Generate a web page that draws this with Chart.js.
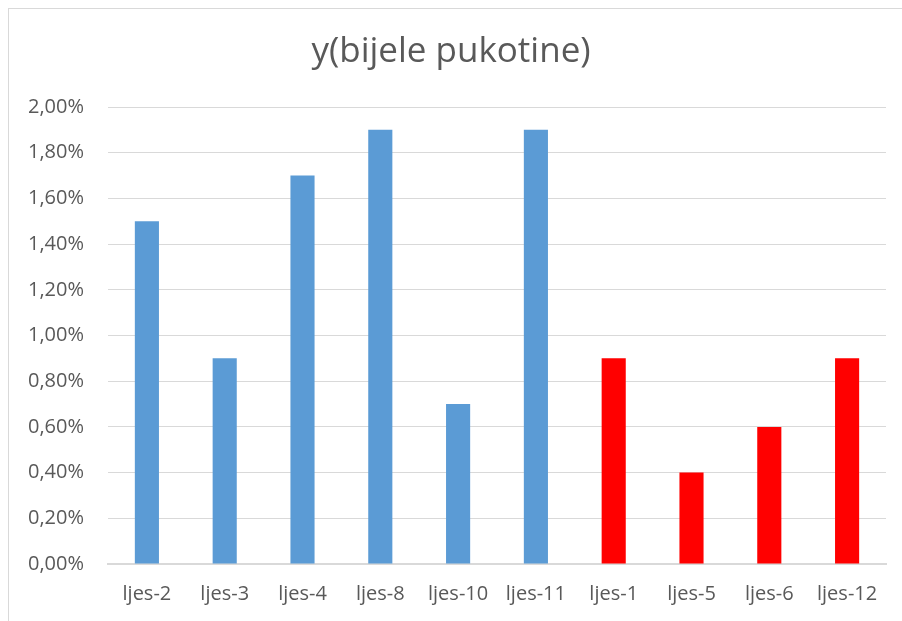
<!DOCTYPE html>
<html>
<head>
<meta charset="utf-8">
<script src="https://cdn.jsdelivr.net/npm/chart.js@4/dist/chart.umd.min.js"></script>
<style>
  html, body { margin: 0; padding: 0; background: #fff; }
  #frame { position: absolute; left: 8px; top: 8px; width: 1000px; height: 1000px; border: 1px solid #d9d9d9; }
  #wrap { position: absolute; left: 0; top: 0; width: 902px; height: 621px; }
</style>
</head>
<body>
<div id="frame"></div>
<div id="wrap"><canvas id="chart"></canvas></div>
<script>
const categories = ["ljes-2", "ljes-3", "ljes-4", "ljes-8", "ljes-10", "ljes-11", "ljes-1", "ljes-5", "ljes-6", "ljes-12"];
const values = [1.5, 0.9, 1.7, 1.9, 0.7, 1.9, 0.9, 0.4, 0.6, 0.9];
const yTicks = [0, 0.2, 0.4, 0.6, 0.8, 1.0, 1.2, 1.4, 1.6, 1.8, 2.0];

const blue = "#5b9bd5";
const red = "#ff0000";
const barColors = categories.map((c, i) => (i < 6 ? blue : red));

const fmt = (v) => v.toFixed(2).replace(".", ",") + "%";

let ctx = document.getElementById("chart").getContext("2d");
new Chart(ctx, {
  type: "bar",
  data: {
    labels: categories,
    datasets: [
      {
        label: "y(bijele pukotine)",
        data: values,
        backgroundColor: barColors,
        barPercentage: 0.62,
        categoryPercentage: 0.5,
      },
    ],
  },
  options: {
    responsive: true,
    maintainAspectRatio: false,
    animation: false,
    layout: { padding: { top: 31, right: 16, bottom: 0, left: 16 } },
    plugins: {
      legend: { display: false },
      tooltip: { enabled: false },
      title: {
        display: true,
        text: "y(bijele pukotine)",
        color: "#595959",
        font: { family: "Open Sans", size: 35, weight: "normal" },
        padding: { top: 0, bottom: 34 },
      },
    },
    scales: {
      x: {
        grid: { display: false, drawTicks: false },
        border: { color: "#d9d9d9", width: 2 },
        ticks: {
          color: "#595959",
          font: { family: "Open Sans", size: 20 },
          padding: 18,
          maxRotation: 0,
          autoSkip: false,
        },
        afterFit: (scale) => { scale.height = 57; },
      },
      y: {
        min: 0,
        max: 2,
        afterBuildTicks: (scale) => { scale.ticks = yTicks.map((v) => ({ value: v })); },
        grid: { color: "#d9d9d9", drawTicks: false, lineWidth: 1 },
        border: { display: false },
        ticks: {
          color: "#595959",
          font: { family: "Open Sans", size: 20 },
          padding: 24,
          callback: (v) => fmt(v),
        },
        afterFit: (scale) => { scale.width = 92; },
      },
    },
  },
});
</script>
</body>
</html>
